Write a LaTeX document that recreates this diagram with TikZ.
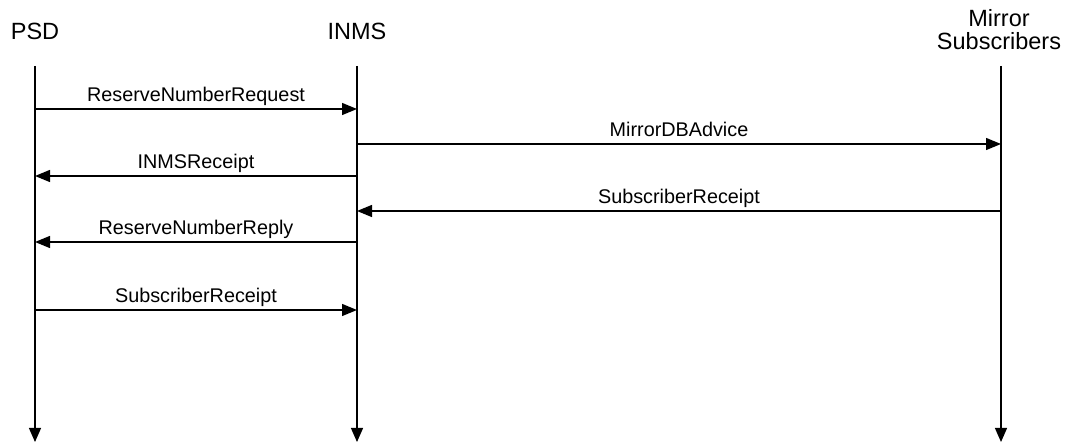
\documentclass[tikz,border=0pt]{standalone}
\usepackage{fontspec}
\setmainfont{Liberation Sans}
\usetikzlibrary{arrows.meta}
\begin{document}
\begin{tikzpicture}[x=1pt,y=-1pt,
  head/.style={font=\fontsize{23.5}{23}\selectfont, inner sep=0pt, anchor=base},
  life/.style={line width=1.2pt, -{Triangle[length=14pt,width=12pt]}},
  msg/.style={line width=1.3pt, -{Triangle[length=15pt,width=12pt]}},
  lbl/.style={font=\fontsize{19.8}{19.8}\selectfont, inner sep=0pt, anchor=base}]
\useasboundingbox (0,0) rectangle (1071,443);
% headers
\node[head] (hpsd) at (35,40) {PSD};
\node[head] (hinms) at (357,40) {INMS};
\node[head] (hmir1) at (999,27) {Mirror};
\node[head] (hmir2) at (999,50) {Subscribers};
% lifeline ends
\coordinate (psdT) at (35,66);  \coordinate (psdB) at (35,442);
\coordinate (inmsT) at (357,66); \coordinate (inmsB) at (357,442);
\coordinate (mirT) at (1001,66); \coordinate (mirB) at (1001,442);
\draw[life] (psdT) -- (psdB);
\draw[life] (inmsT) -- (inmsB);
\draw[life] (mirT) -- (mirB);
% message points
\foreach \n/\y in {1/109,2/144,3/176,4/211,5/242,6/310}{
  \coordinate (p\n) at (35,\y);
  \coordinate (i\n) at (357,\y);
  \coordinate (m\n) at (1001,\y);
}
\draw[msg] (p1) -- (i1);
\node[lbl] (l1) at (196,102) {ReserveNumberRequest};
\draw[msg] (i2) -- (m2);
\node[lbl] (l2) at (679,137) {MirrorDBAdvice};
\draw[msg] (i3) -- (p3);
\node[lbl] (l3) at (196,169) {INMSReceipt};
\draw[msg] (m4) -- (i4);
\node[lbl] (l4) at (679,204) {SubscriberReceipt};
\draw[msg] (i5) -- (p5);
\node[lbl] (l5) at (196,235) {ReserveNumberReply};
\draw[msg] (p6) -- (i6);
\node[lbl] (l6) at (196,303) {SubscriberReceipt};
\end{tikzpicture}
\end{document}
